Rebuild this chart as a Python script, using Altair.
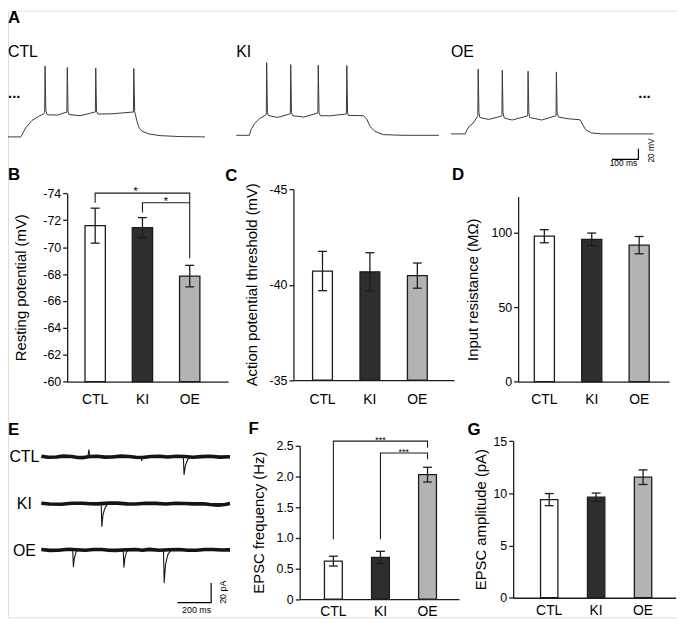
import altair as alt
import pandas as pd

W, H = 675, 612
FONT = "Liberation Sans"
INK = "#1c1c1c"
TRACE = "#3a3a3a"

# ---------------- data ----------------
GROUPS = ["CTL", "KI", "OE"]
BAR_FILLS = ["#ffffff", "#2e2e2e", "#b3b3b3"]

RMP_MEAN = [-71.6, -71.45, -67.85]
RMP_SEM = [1.3, 0.75, 0.8]
APT_MEAN = [-40.72, -40.68, -40.48]
APT_SEM = [1.03, 1.0, 0.66]
RIN_MEAN = [97.5, 95.4, 91.5]
RIN_SEM = [4.4, 4.2, 5.8]
FREQ_MEAN = [0.62, 0.68, 2.03]
FREQ_SEM = [0.08, 0.10, 0.12]
AMP_MEAN = [9.4, 9.63, 11.55]
AMP_SEM = [0.58, 0.40, 0.70]

# significance brackets
RMP_SIG_FROM = ["CTL", "KI"]
RMP_SIG_TO = ["OE", "OE"]
RMP_SIG_LEFT = [-73.3, -72.57]
RMP_SIG_TOP = [-74.02, -73.3]
RMP_SIG_RIGHT = [-69.17, -73.3]
RMP_SIG_TEXT = ["*", "*"]

FREQ_SIG_FROM = ["CTL", "KI"]
FREQ_SIG_TO = ["OE", "OE"]
FREQ_SIG_LEFT = [0.976, 0.976]
FREQ_SIG_TOP = [2.576, 2.382]
FREQ_SIG_RIGHT = [2.467, 2.279]
FREQ_SIG_TEXT = ["***", "***"]

# A: current-clamp traces, time (ms) / membrane potential (mV)
CTL_A_T = [0, 50, 58.5, 68.5, 93.6, 118.4, 141, 143, 144.6, 147.6, 153.5, 193, 222.5, 229.5, 231.2,
           234.2, 238, 281, 338, 340.7, 342.2, 345.2, 350.6, 405.6, 484, 489, 490.6, 494, 503, 511.6,
           524, 549, 593, 668, 768]
CTL_A_V = [-70, -70, -62.5, -53.1, -38.9, -31.4, -25.8, -24, 64.3, -21, -28.2, -28.7, -23.9, -23.5, 61.3,
           -21, -27.6, -30.0, -23.1, -23, 60.6, -21, -26.8, -26.3, -23.1, -23, 59.4, -22, -40.7, -53.1,
           -59.5, -64.4, -67.6, -69.4, -70]
KI_A_T = [0, 50, 56, 68.7, 87.5, 112.5, 113.6, 115, 118, 121, 156, 200, 204.5, 206, 209, 213.5, 256, 306,
          308.6, 310, 313, 318, 356, 412, 416.6, 418, 421, 424, 456, 481, 493, 506, 524, 556, 631, 766]
KI_A_V = [-70, -70, -59.3, -48.0, -38.7, -31.2, -30, 67.7, -27, -32.5, -36.2, -29.9, -29.5, 64.0, -27,
          -33.0, -35.5, -28.0, -28, 62.6, -27, -33.0, -33.0, -29.9, -29.5, 62.1, -27, -32.5, -32.5, -33.0,
          -38.7, -53.1, -62.5, -68.7, -70, -70]
OE_A_T = [0, 53.7, 58.8, 68.7, 83.6, 100, 101.2, 102.6, 105.5, 108.7, 142.5, 191, 192.2, 193.6, 196.5,
          201, 231, 287, 289.6, 291, 294, 297, 343, 396, 396.8, 398, 401, 406, 443, 487, 496, 508, 531,
          568, 765]
OE_A_V = [-70, -70, -63.8, -55.8, -49.4, -37.0, -36, 52.5, -30, -38.9, -42.6, -36.2, -36, 50.6, -30,
          -40.0, -43.7, -36.2, -36, 48.8, -30, -38.9, -43.7, -35.7, -35.5, 47.4, -30, -38.1, -41.3, -43.2,
          -51.2, -61.9, -68.1, -70, -70]
SCALEBAR_A_T = [608, 708, 708]      # 100 ms
SCALEBAR_A_V = [-118.2, -118.2, -98.2]  # 20 mV

# E: voltage-clamp traces, time (ms) / current (pA)
CTL_E_NOISE_T = [0, 40, 90, 130, 180, 215, 250, 290, 330, 375, 420, 470, 520, 560, 600, 650, 700, 750,
                 800, 850, 900, 950, 1000, 1060, 1120]
CTL_E_NOISE_I = [0.5, -0.6, -0.2, 0.6, 0.3, -0.7, -0.9, 0.2, 0.5, -0.4, -0.2, 0.6, 0.3, -0.5, -0.7, 0.2,
                 0.4, -0.3, 0.5, 0.2, -0.5, 0.1, 0.4, -0.4, 0]
CTL_E_T = [0, 276, 282, 288, 592, 596, 600, 843, 847, 855, 868, 885, 1120]
CTL_E_I = [0, 0, 7, 0, 0, -4, 0, 0, -18, -9, -3, 0, 0]
KI_E_NOISE_T = [0, 50, 120, 180, 240, 290, 330, 400, 450, 510, 560, 620, 680, 740, 800, 850, 900, 960,
                1000, 1050, 1090, 1120]
KI_E_NOISE_I = [0.3, -0.4, -0.6, 0.3, 0.4, -0.2, -0.3, 0.5, 0.5, -0.3, -0.4, 0.3, 0.2, -0.4, 0.4, 0.1,
                -0.3, -0.2, -1.0, -1.6, -1.0, 0]
KI_E_T = [0, 355, 359, 366, 378, 395, 1120]
KI_E_I = [0, 0, -23, -11, -4, 0, 0]
OE_E_NOISE_T = [0, 50, 100, 160, 210, 260, 310, 360, 400, 440, 510, 560, 600, 640, 700, 760, 820, 870,
                920, 970, 1020, 1070, 1120]
OE_E_NOISE_I = [0.4, -0.5, -0.4, 0.6, 0.2, -0.3, 0.4, 0.4, -0.3, -0.5, 0.2, 0.3, -0.4, 0.5, -0.4, 0.2,
                0.3, -0.4, -0.3, 0.3, 0.4, -0.2, 0]
OE_E_T = [0, 186, 190, 196, 206, 222, 486, 490, 496, 506, 522, 725, 729, 737, 750, 770, 1120]
OE_E_I = [0, 0, -17, -8, -2, 0, 0, -17.5, -8, -2, 0, 0, -33, -15, -5, 0, 0]
SCALEBAR_E_T = [808, 1008, 1008]    # 200 ms
SCALEBAR_E_I = [-53.3, -53.3, -33.3]  # 20 pA


def lin(domain, rng):
    return alt.Scale(domain=domain, range=rng, zero=False, nice=False)


def line_layer(t, v, xs, ys, width, color):
    df = pd.DataFrame({"t": t, "v": v, "i": list(range(len(t)))})
    return alt.Chart(df).mark_line(color=color, strokeWidth=width, strokeJoin="round").encode(
        x=alt.X("t:Q", scale=xs, axis=None),
        y=alt.Y("v:Q", scale=ys, axis=None),
        order="i:Q",
    )


def bar_panel(mean, sem, base, ydom, yrng, xrng, pin, pout, align, yvalues, ytitle,
              title_x, title_y, label_pad, label_expr=None, sig=None, stars=None):
    df = pd.DataFrame({"group": GROUPS, "mean": mean, "sem": sem})
    df["lo"] = df["mean"] - df["sem"]
    df["hi"] = df["mean"] + df["sem"]
    xs = alt.Scale(type="band", domain=GROUPS, range=xrng, paddingInner=pin,
                   paddingOuter=pout, align=align)
    ys = lin(ydom, yrng)
    xax = alt.Axis(orient="bottom", offset=yrng[0] - H, ticks=False, labelAngle=0,
                   labelFontSize=14, labelPadding=label_pad, title=None, domainWidth=1.3,
                   domainColor=INK, labelColor="black", grid=False, labelFont=FONT)
    ykw = dict(orient="left", offset=-xrng[0], values=yvalues, title=ytitle,
               titleX=title_x, titleY=title_y, tickSize=4.5, tickWidth=1.3, tickColor=INK,
               labelPadding=2, labelFontSize=12.5, titleFontSize=15, titleFontWeight="normal",
               domainWidth=1.3, domainColor=INK, grid=False, labelColor="black",
               titleColor="black", labelFont=FONT, titleFont=FONT)
    if label_expr:
        ykw["labelExpr"] = label_expr
    yax = alt.Axis(**ykw)
    X = alt.X("group:N", scale=xs, axis=xax)
    bars = alt.Chart(df).mark_bar(stroke=INK, strokeWidth=1.3).encode(
        x=X,
        y=alt.Y("mean:Q", scale=ys, axis=yax),
        y2=alt.datum(base),
        fill=alt.Fill("group:N", scale=alt.Scale(domain=GROUPS, range=BAR_FILLS), legend=None),
    )
    err = alt.Chart(df).mark_rule(color=INK, strokeWidth=1.3).encode(
        x=X, y=alt.Y("lo:Q", scale=ys, axis=yax), y2="hi:Q")
    cap_lo = alt.Chart(df).mark_tick(color=INK, thickness=1.3, size=9, opacity=1,
                                     orient="horizontal").encode(
        x=X, y=alt.Y("lo:Q", scale=ys, axis=yax))
    cap_hi = alt.Chart(df).mark_tick(color=INK, thickness=1.3, size=9, opacity=1,
                                     orient="horizontal").encode(
        x=X, y=alt.Y("hi:Q", scale=ys, axis=yax))
    parts = [bars, err, cap_lo, cap_hi]
    if sig:
        frm, to, left, top, right, texts = sig
        rows = []
        for b in range(len(frm)):
            pts = [(frm[b], left[b]), (frm[b], top[b]), (to[b], top[b]), (to[b], right[b])]
            for i, (g, v) in enumerate(pts):
                rows.append({"b": b, "i": i, "group": g, "v": v})
        bdf = pd.DataFrame(rows)
        parts.append(alt.Chart(bdf).mark_line(color=INK, strokeWidth=1.1).encode(
            x=X, y=alt.Y("v:Q", scale=ys, axis=yax), detail="b:N", order="i:Q"))
        for b in range(len(frm)):
            anchor, dx, size = stars[b]
            sdf = pd.DataFrame({"group": [anchor], "v": [top[b]], "s": [texts[b]]})
            parts.append(alt.Chart(sdf).mark_text(dx=dx, dy=2, fontSize=size, font=FONT,
                                                  baseline="alphabetic", color="#000000").encode(
                x=X, y=alt.Y("v:Q", scale=ys, axis=yax), text="s:N"))
    return alt.layer(*parts)


def label(text, x, y, size=16, weight="normal", align="left", baseline="middle", angle=0):
    df = pd.DataFrame({"s": [text]})
    return alt.Chart(df).mark_text(fontSize=size, fontWeight=weight, align=align,
                                   baseline=baseline, angle=angle, font=FONT,
                                   color="black").encode(
        x=alt.value(x), y=alt.value(y), text="s:N")


layers = []

# ---------- A ----------
layers.append(line_layer(CTL_A_T, CTL_A_V, lin([0, 768], [0, 198.7]), lin([-70, 70], [127.3, 52.7]), 1.0, TRACE))
layers.append(line_layer(KI_A_T, KI_A_V, lin([0, 766], [230.3, 434.7]), lin([-70, 70], [125.7, 51.1]), 1.0, TRACE))
oe_xs = lin([0, 765], [447, 651.3])
oe_ys = lin([-70, 70], [124.3, 49.7])
layers.append(alt.layer(
    line_layer(OE_A_T, OE_A_V, oe_xs, oe_ys, 1.0, TRACE),
    line_layer(SCALEBAR_A_T, SCALEBAR_A_V, oe_xs, oe_ys, 1.2, "black"),
))

# ---------- B, C, D ----------
layers.append(bar_panel(RMP_MEAN, RMP_SEM, -60, [-60, -74], [374.3, 184.3], [59.7, 222],
                        0.57, 0.4865, 0.388, [-74, -72, -70, -68, -66, -64, -62, -60],
                        "Resting potential (mV)", -39.4, 279, 11,
                        label_expr="'-' + abs(datum.value)",
                        sig=(RMP_SIG_FROM, RMP_SIG_TO, RMP_SIG_LEFT, RMP_SIG_TOP, RMP_SIG_RIGHT, RMP_SIG_TEXT),
                        stars=[("KI", -7, 11), ("OE", -24, 11)]))
layers.append(bar_panel(APT_MEAN, APT_SEM, -35, [-35, -45], [372.7, 180.3], [288, 450],
                        0.582, 0.484, 0.417, [-45, -40, -35],
                        "Action potential threshold (mV)", -34.3, 276, 12.5,
                        label_expr="'-' + abs(datum.value)"))
layers.append(bar_panel(RIN_MEAN, RIN_SEM, 0, [0, 124], [374.3, 187.6], [514.7, 667],
                        0.576, 0.38, 0.449, [0, 50, 100],
                        "Input resistance (MΩ)", -37.7, 281, 11))

# ---------- E ----------
e_xs = lin([0, 1120], [33.7, 224])
for nt, ni, ft, fi, base in [
    (CTL_E_NOISE_T, CTL_E_NOISE_I, CTL_E_T, CTL_E_I, 450),
    (KI_E_NOISE_T, KI_E_NOISE_I, KI_E_T, KI_E_I, 497.3),
]:
    ys = lin([-40, 10], [base + 40, base - 10])
    layers.append(alt.layer(line_layer(nt, ni, e_xs, ys, 3.6, "#151515"),
                            line_layer(ft, fi, e_xs, ys, 1.1, "#151515")))
oe_e_ys = lin([-40, 10], [584, 534])
layers.append(alt.layer(
    line_layer(OE_E_NOISE_T, OE_E_NOISE_I, e_xs, oe_e_ys, 3.6, "#151515"),
    line_layer(OE_E_T, OE_E_I, e_xs, oe_e_ys, 1.1, "#151515"),
    line_layer(SCALEBAR_E_T, SCALEBAR_E_I, e_xs, oe_e_ys, 1.2, "black"),
))

# ---------- F, G ----------
layers.append(bar_panel(FREQ_MEAN, FREQ_SEM, 0, [0, 2.5], [593.7, 439], [294.3, 455],
                        0.621, 0.502, 0.524, [0, 0.5, 1.0, 1.5, 2.0, 2.5],
                        "EPSC frequency (Hz)", -34, 516, 6,
                        label_expr="datum.value == 0 ? '0' : format(datum.value, '.1f')",
                        sig=(FREQ_SIG_FROM, FREQ_SIG_TO, FREQ_SIG_LEFT, FREQ_SIG_TOP, FREQ_SIG_RIGHT, FREQ_SIG_TEXT),
                        stars=[("KI", 0, 9), ("OE", -24, 9)]))
layers.append(bar_panel(AMP_MEAN, AMP_SEM, 0, [0, 15], [592.3, 434.3], [509.7, 673.7],
                        0.63, 0.547, 0.533, [0, 5, 10, 15],
                        "EPSC amplitude (pA)", -24.7, 513, 6))

# ---------- text ----------
for letter, x, y in [("A", 0, 7), ("B", 0, 166), ("C", 219.3, 166.5), ("D", 448, 166),
                     ("E", 0, 423), ("F", 242.7, 422.5), ("G", 463.7, 423)]:
    layers.append(label(letter, x, y, size=17, weight="bold"))
for name, x, y in [("CTL", 0, 41.7), ("KI", 230.3, 41.7), ("OE", 447, 41.7)]:
    layers.append(label(name, x, y, size=16))
layers.append(label("...", 0, 88, size=15, weight="bold", baseline="alphabetic"))
layers.append(label("...", 636, 88, size=15, weight="bold", baseline="alphabetic"))
layers.append(label("100 ms", 621, 154, size=8.5, align="center"))
layers.append(label("20 mV", 648.7, 141, size=8.5, align="center", angle=270))
for name, y in [("CTL", 450), ("KI", 498), ("OE", 544.7)]:
    layers.append(label(name, 16.5, y, size=16, align="center"))
layers.append(label("200 ms", 190.3, 605, size=9, align="center"))
layers.append(label("20 pA", 217, 586.7, size=9, align="center", angle=270))

chart = (
    alt.layer(*layers)
    .resolve_scale(x="independent", y="independent")
    .properties(width=W, height=H, padding=0, background="white",
                autosize=alt.AutoSizeParams(type="none"))
    .configure_view(stroke="transparent", strokeWidth=0)
    .configure(font=FONT)
)

chart.save("out.html", embed_options={"renderer": "svg", "actions": False})
